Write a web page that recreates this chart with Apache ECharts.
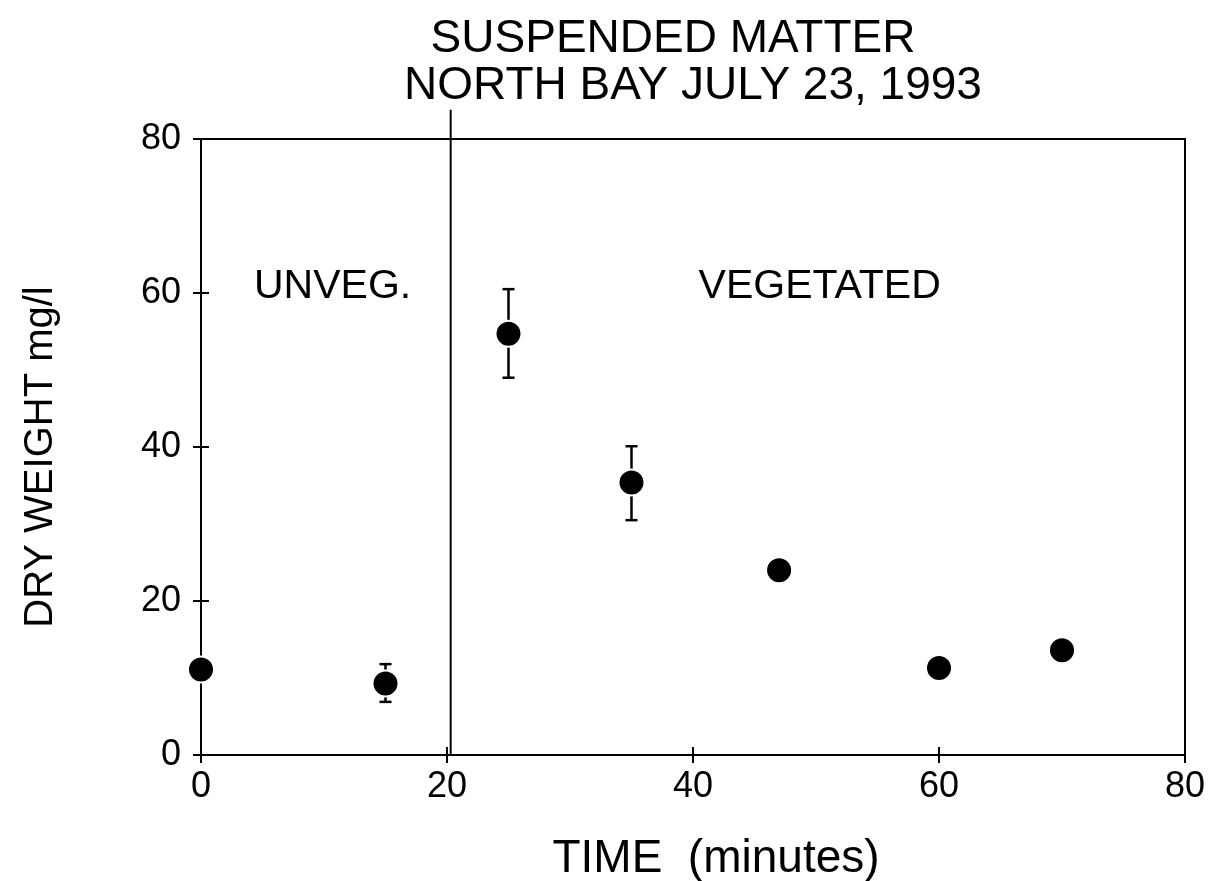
<!DOCTYPE html>
<html>
<head>
<meta charset="utf-8">
<script src="https://cdn.jsdelivr.net/npm/echarts@6/dist/echarts.min.js"></script>
<style>
html, body { margin: 0; padding: 0; background: #fff; }
#chart { width: 1217px; height: 881px; }
</style>
</head>
<body>
<div id="chart"></div>
<script>
// data
const times = [0, 15, 25, 35, 47, 60, 70];
const dryWeight = [11.1, 9.3, 54.7, 35.4, 24.0, 11.3, 13.6];
const errTimes = [15, 25, 35];
const errLow = [6.9, 49.0, 30.5];
const errHigh = [11.8, 60.5, 40.1];
const tickValues = [0, 20, 40, 60, 80];
const dividerX = 20.3;
const dividerTop = 83.8;
const regionLabels = [
    { name: 'UNVEG.', x: 10.7, y: 60.8 },
    { name: 'VEGETATED', x: 50.3, y: 60.8 }
];

const font = 'Liberation Sans';
const chart = echarts.init(document.getElementById('chart'));

const axisBase = {
    type: 'value',
    min: 0,
    max: 80,
    interval: 20,
    splitLine: { show: false },
    axisLine: { show: true, onZero: false, lineStyle: { color: '#000', width: 2 } },
    axisTick: { show: true, inside: false, length: 8, lineStyle: { color: '#000', width: 2 } }
};

function vline(params, api) {
    const a = api.coord([api.value(0), api.value(1)]);
    const b = api.coord([api.value(0), api.value(2)]);
    return {
        type: 'line',
        shape: { x1: a[0], y1: a[1], x2: b[0], y2: b[1] },
        style: { stroke: '#000', lineWidth: 2 }
    };
}

// inner half of the crossing tick marks
function innerTicks(params, api) {
    const v = api.value(0);
    const bx = api.coord([v, 0]);
    const ly = api.coord([0, v]);
    const style = { stroke: '#000', lineWidth: 2 };
    return {
        type: 'group',
        children: [
            { type: 'line', shape: { x1: bx[0], y1: bx[1], x2: bx[0], y2: bx[1] - 8 }, style: style },
            { type: 'line', shape: { x1: ly[0], y1: ly[1], x2: ly[0] + 8, y2: ly[1] }, style: style }
        ]
    };
}

const option = {
    backgroundColor: '#fff',
    title: [
        {
            text: 'SUSPENDED MATTER',
            left: 668, top: 11, textAlign: 'center',
            textStyle: { fontFamily: font, fontWeight: 'normal', fontSize: 46, color: '#000' }
        },
        {
            text: 'NORTH BAY JULY 23, 1993',
            left: 688, top: 58, textAlign: 'center',
            textStyle: { fontFamily: font, fontWeight: 'normal', fontSize: 46, color: '#000' }
        }
    ],
    grid: {
        left: 201, right: 32, top: 139, bottom: 126,
        outerBoundsMode: 'none',
        show: true, borderColor: '#000', borderWidth: 2
    },
    xAxis: Object.assign({}, axisBase, {
        name: 'TIME  (minutes)',
        nameLocation: 'middle',
        nameGap: 81,
        nameTextStyle: { fontFamily: font, fontSize: 46, color: '#000', padding: [0, 0, 0, 46] },
        axisLabel: { fontFamily: font, fontSize: 36, color: '#000', margin: 14 }
    }),
    yAxis: Object.assign({}, axisBase, {
        name: 'DRY WEIGHT mg/l',
        nameLocation: 'middle',
        nameGap: 140,
        nameTextStyle: { fontFamily: font, fontSize: 40, color: '#000', padding: [0, 20, 0, 0] },
        axisLabel: { fontFamily: font, fontSize: 36, color: '#000', margin: 20 }
    }),
    series: [
        {
            type: 'custom',
            data: tickValues.map(v => [v, v]),
            clip: false,
            renderItem: innerTicks,
            silent: true
        },
        {
            type: 'custom',
            data: [[dividerX, 0, dividerTop]],
            clip: false,
            renderItem: vline,
            silent: true
        },
        {
            type: 'custom',
            data: errTimes.map((t, i) => [t, errLow[i], errHigh[i]]),
            clip: false,
            renderItem: function (params, api) {
                const lo = api.coord([api.value(0), api.value(1)]);
                const hi = api.coord([api.value(0), api.value(2)]);
                const cap = 6;
                const style = { stroke: '#000', lineWidth: 2.5 };
                return {
                    type: 'group',
                    children: [
                        { type: 'line', shape: { x1: lo[0], y1: lo[1], x2: hi[0], y2: hi[1] }, style: style },
                        { type: 'line', shape: { x1: lo[0] - cap, y1: lo[1], x2: lo[0] + cap, y2: lo[1] }, style: style },
                        { type: 'line', shape: { x1: hi[0] - cap, y1: hi[1], x2: hi[0] + cap, y2: hi[1] }, style: style }
                    ]
                };
            },
            z: 2
        },
        {
            type: 'scatter',
            data: times.map((t, i) => [t, dryWeight[i]]),
            symbol: 'circle',
            symbolSize: 26,
            clip: false,
            itemStyle: { color: '#000', opacity: 1, borderColor: '#fff', borderWidth: 2 },
            z: 3
        },
        {
            type: 'scatter',
            data: regionLabels.map(r => ({ name: r.name, value: [r.x, r.y] })),
            symbolSize: 0,
            itemStyle: { opacity: 1 },
            label: {
                show: true,
                position: 'inside',
                formatter: '{b}',
                fontFamily: font,
                fontSize: 41,
                color: '#000'
            },
            silent: true
        }
    ]
};

chart.setOption(option);
window.addEventListener('resize', function () {
    chart.resize();
});
</script>
</body>
</html>
